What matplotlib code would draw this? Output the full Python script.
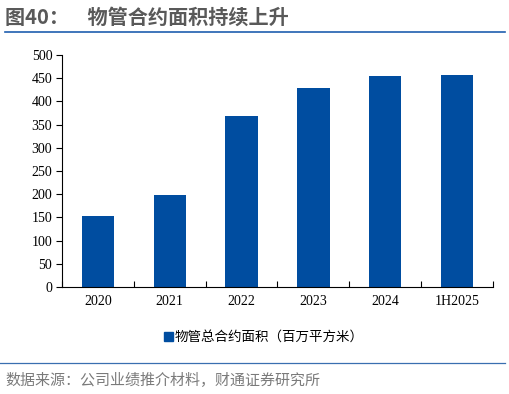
import numpy as np
import matplotlib.pyplot as plt
from matplotlib.patches import Patch

plt.rcParams['font.family'] = ['Noto Sans CJK SC', 'DejaVu Sans']

# data
categories = ['2020', '2021', '2022', '2023', '2024', '1H2025']
area = [153, 198, 368, 428, 454, 456]
yticks = [0, 50, 100, 150, 200, 250, 300, 350, 400, 450, 500]

bar_color = '#004DA0'
grey = '#595959'

fig = plt.figure(figsize=(5.10, 3.94), dpi=100)
W, H = 510, 394
ax = fig.add_axes([62 / W, 1 - 287 / H, (493 - 62) / W, (287 - 55) / H])

x = np.arange(len(categories))
ax.bar(x, area, width=0.45, color=bar_color, zorder=2)
ax.set_xlim(-0.5, len(categories) - 0.5)
ax.set_ylim(0, 500)
ax.set_yticks(yticks)
ax.set_yticklabels([str(v) for v in yticks], family='Liberation Serif', fontsize=10)
ax.set_xticks(np.arange(len(categories) + 1) - 0.5, minor=False)
ax.set_xticklabels([])
ax.set_xticks(x, minor=True)
ax.set_xticklabels(categories, minor=True, family='Liberation Serif', fontsize=10)
ax.tick_params(axis='x', which='major', direction='in', length=4, color='black')
ax.tick_params(axis='x', which='minor', length=0, pad=6)
ax.tick_params(axis='y', direction='out', length=4, pad=3)
for s in ['top', 'right']:
    ax.spines[s].set_visible(False)
ax.spines['left'].set_linewidth(0.8)
ax.spines['bottom'].set_linewidth(0.8)

# legend
fig.legend(handles=[Patch(color=bar_color, label='物管总合约面积（百万平方米）')],
           loc='center', bbox_to_anchor=(264 / W, 1 - 337 / H), frameon=False,
           fontsize=9.7, handlelength=0.6, handleheight=0.6, handletextpad=0.15)

# title and source
fig.text(5 / W, 1 - 17 / H, '图40：    物管合约面积持续上升', fontsize=14.5,
         fontweight='bold', color=grey, va='center', ha='left')
fig.add_artist(plt.Line2D([5 / W, 505 / W], [1 - 32 / H, 1 - 32 / H],
                          color='#1F5FAF', linewidth=1.2))
fig.add_artist(plt.Line2D([0, 505 / W], [1 - 363 / H, 1 - 363 / H],
                          color='#3A6FB0', linewidth=0.9))
fig.text(5 / W, 1 - 381 / H, '数据来源：公司业绩推介材料，财通证券研究所', fontsize=10.8,
         color='#7a7a7a', va='center', ha='left')

fig.savefig('out.png', dpi=100)
